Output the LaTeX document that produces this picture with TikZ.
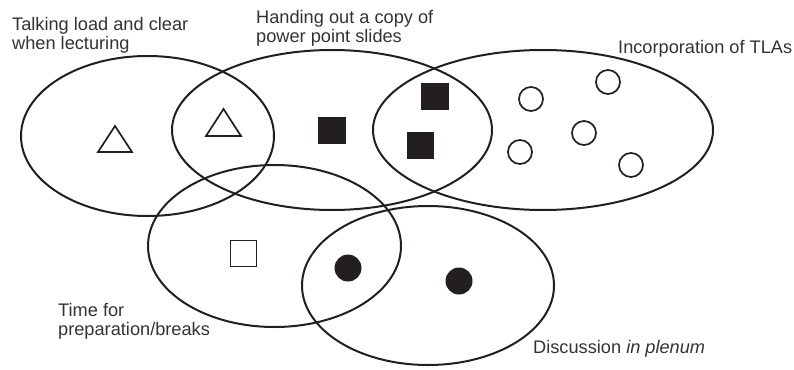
\documentclass[tikz,border=0pt]{standalone}
\usepackage{fontspec}
\setmainfont{Liberation Sans}
\definecolor{ink}{HTML}{231F20}
\definecolor{txt}{HTML}{333333}
\begin{document}
\begin{tikzpicture}[x=1pt,y=-1pt,
  set/.style={draw=ink,line width=2pt},
  mark open/.style={draw=ink,line width=1.7pt},
  mark full/.style={fill=ink},
  lbl/.style={inner sep=0pt,text=txt,font=\fontsize{18.2}{19.5}\selectfont,align=left}]
\useasboundingbox (0,0) rectangle (794,369);

% the five sets
\draw[set] (147.5,136) ellipse [x radius=126.5,y radius=80];
\draw[set] (332,130) ellipse [x radius=160,y radius=80];
\draw[set] (543,130) ellipse [x radius=170,y radius=80];
\draw[set] (274.5,246) ellipse [x radius=126.5,y radius=81];
\draw[set] (428,285.5) ellipse [x radius=126,y radius=79.5];

% open triangles
\draw[mark open] (98,152) -- (132,152) -- (115,126) -- cycle;
\draw[mark open] (206,136) -- (241,136) -- (223.5,109) -- cycle;

% filled squares
\fill[mark full] (318,117) rectangle (346,144);
\fill[mark full] (421,83) rectangle (449,110);
\fill[mark full] (407,132) rectangle (434,159);

% open circles
\foreach \p in {(531,99),(608,82),(584,133),(520,152),(631,165)}
  \draw[mark open] \p circle [radius=12];

% open square
\draw[mark open] (230.5,240.5) rectangle (256.5,266.5);

% filled circles
\fill[mark full] (348,268) circle [radius=13.5];
\fill[mark full] (459,281) circle [radius=13.5];

% labels
\node[lbl,anchor=north west] (talk) at (12,17) {Talking load and clear\\when lecturing};
\node[lbl,anchor=north west] (hand) at (256,10) {Handing out a copy of\\power point slides};
\node[lbl,anchor=base west] (tlas) at (618,53) {Incorporation of TLAs};
\node[lbl,anchor=north west] (time) at (58,303) {Time for\\preparation/breaks};
\node[lbl,anchor=base west] (disc) at (533,353) {Discussion \textit{in plenum}};
\end{tikzpicture}
\end{document}
